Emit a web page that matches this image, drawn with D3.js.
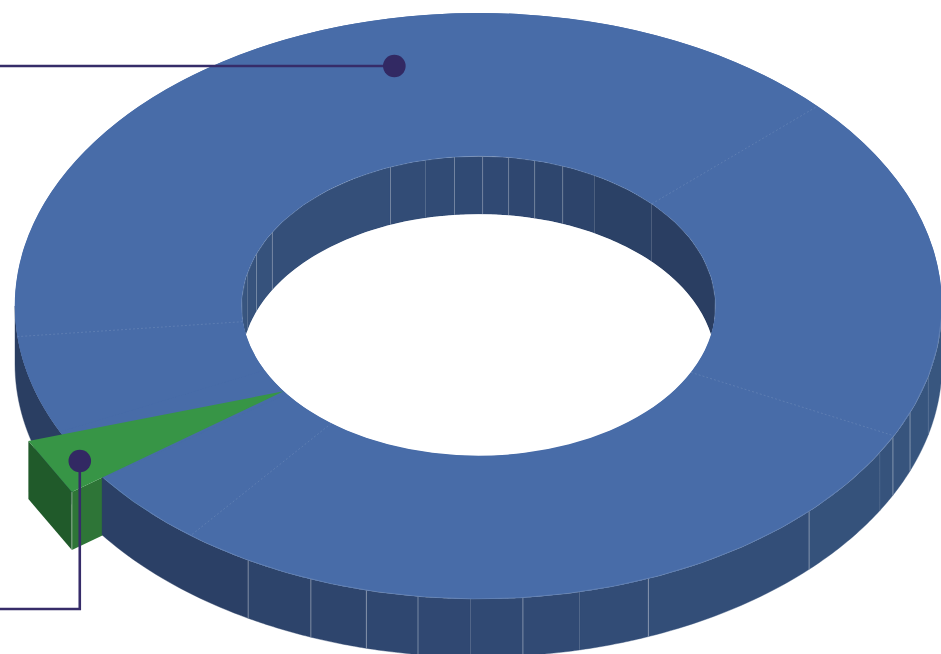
<!DOCTYPE html>
<html>
<head>
<meta charset="utf-8">
<script src="https://cdn.jsdelivr.net/npm/d3@7"></script>
<style>
  html, body { margin: 0; padding: 0; background: #fff; overflow: hidden; }
  svg { display: block; }
</style>
</head>
<body>
<svg id="chart" width="941" height="654"></svg>
<script>
// slice sizes, clockwise from the seam on the left of the ring
const sliceValues = [143, 69.3, 102.1, 15.7, 10.5, 19.4]
const highlightSlice = 4

// angles (degrees clockwise from top) where the side walls are cut into panels
const outerPanels = [90, 104, 111.4, 116.6, 120, 134.5, 158.5, 167.4, 174.5, 181, 187.5, 194, 201.2, 209.8, 234.3]
const outerPanelsLeft = [241, 270]
const outerStrongTicks = [111.4, 116.6, 134.5, 158.5, 174.5, 187.5, 194, 201.2, 209.8]
const outerFaintTicks = [104, 120, 167.4, 181]
const innerPanels = [262, 282.9, 290.5, 299.6, 338.2, 347.1, 354.2, 361, 367.3, 373.7, 380.8, 389.3, 406.9, 458]
const innerStrongTicks = [290.5, 299.6, 338.2, 354.2, 361, 367.3, 373.7, 380.8]
const innerFaintTicks = [282.9, 347.1, 389.3, 406.9]

const innerRatio = 0.5115
const depth = 58
const rad = d => d * Math.PI / 180

const svg = d3.select("#chart")
const sx = d3.scaleLinear().domain([-1, 1]).range([15, 942])
const sy = d3.scaleLinear().domain([-1, 1]).range([13, 599])
const rx = sx(1) - sx(0)
const ry = sy(1) - sy(0)

// angle + radius + drop => screen point
function project(angle, r, z) {
    return [sx(r * Math.sin(rad(angle))), sy(-r * Math.cos(rad(angle))) + (z || 0)]
}

const line = d3.line()

function arcPoints(a0, a1, r, z) {
    return d3.range(0, 25).map(i => project(a0 + (a1 - a0) * i / 24, r, z))
}

// one wall panel between two angles at radius r
function panelPath(a0, a1, r) {
    return line(arcPoints(a0, a1, r, 0).concat(arcPoints(a1, a0, r, depth))) + "Z"
}

const outerColor = d3.scaleLinear().domain([100, 180, 234]).range(["#38567f", "#304973", "#2a3e62"]).clamp(true)
const innerColor = d3.scaleLinear().domain([270, 360, 410]).range(["#38557f", "#304a74", "#2a3e62"]).clamp(true)

function drawPanels(g, edges, r, color) {
    g.selectAll(null)
        .data(d3.pairs(edges))
        .join("path")
        .attr("d", d => panelPath(d[0], d[1], r))
        .attr("fill", d => color((d[0] + d[1]) / 2))
        .attr("stroke", d => color((d[0] + d[1]) / 2))
        .attr("stroke-width", 0.4)
}

function drawTicks(g, angles, r, opacity) {
    g.selectAll(null)
        .data(angles)
        .join("line")
        .attr("x1", d => project(d, r, 0)[0])
        .attr("y1", d => project(d, r, 0)[1])
        .attr("x2", d => project(d, r, depth)[0])
        .attr("y2", d => project(d, r, depth)[1])
        .attr("stroke", "#fff")
        .attr("stroke-width", 0.8)
        .attr("opacity", opacity)
}

const pie = d3.pie().sort(null).value(d => d).startAngle(rad(264)).endAngle(rad(264 + 360))
const slices = pie(sliceValues)
const deg = a => a * 180 / Math.PI
const green = slices[highlightSlice]
const greenStart = deg(green.startAngle)
const greenEnd = deg(green.endAngle)

// the highlighted slice is pulled out and comes to a point at the inner edge
const cornerA = project(greenStart, 1.083, 0)
const cornerB = project(greenEnd, 1.075, 0)
const tipPoint = project(greenStart + 1.2, innerRatio, 0)
const drop = p => [p[0], p[1] + depth]

// outer wall behind the green slice
drawPanels(svg.append("g"), outerPanelsLeft, 1, outerColor)

// green side faces
svg.append("path")
    .attr("d", line([cornerB, cornerA, drop(cornerA), drop(cornerB)]) + "Z")
    .attr("fill", "#205a2a")
svg.append("path")
    .attr("d", line([cornerA, tipPoint, drop(tipPoint), drop(cornerA)]) + "Z")
    .attr("fill", "#2e7537")
svg.append("line")
    .attr("x1", cornerA[0]).attr("y1", cornerA[1])
    .attr("x2", cornerA[0]).attr("y2", cornerA[1] + depth)
    .attr("stroke", "#fff").attr("stroke-width", 0.8).attr("opacity", 0.55)

// outer wall in front
const outerWall = svg.append("g")
drawPanels(outerWall, outerPanels, 1, outerColor)
drawTicks(outerWall, outerStrongTicks, 1, 0.45)
drawTicks(outerWall, outerFaintTicks, 1, 0.1)

// inner wall seen through the hole
svg.append("clipPath").attr("id", "hole")
    .append("ellipse")
    .attr("cx", sx(0)).attr("cy", sy(0))
    .attr("rx", rx * innerRatio).attr("ry", ry * innerRatio)

const innerWall = svg.append("g").attr("clip-path", "url(#hole)")
drawPanels(innerWall, innerPanels, innerRatio, innerColor)
drawTicks(innerWall, innerStrongTicks, innerRatio, 0.32)
drawTicks(innerWall, innerFaintTicks, innerRatio, 0.1)
innerWall.append("ellipse")
    .attr("cx", sx(0)).attr("cy", sy(0) + depth)
    .attr("rx", rx * innerRatio).attr("ry", ry * innerRatio)
    .attr("fill", "#fff")

// top face: a whole ring under the slices so no seam shows through
const arc = d3.arc().innerRadius(innerRatio).outerRadius(1)
const topFace = svg.append("g")
    .attr("transform", "translate(" + sx(0) + "," + sy(0) + ") scale(" + rx + "," + ry + ")")
topFace.append("path")
    .attr("d", arc({ startAngle: 0, endAngle: 2 * Math.PI }))
    .attr("fill", "#486ca8")
topFace.selectAll(null)
    .data(slices)
    .join("path")
    .attr("d", arc)
    .attr("fill", "#486ca8")

// light rim only where the top face meets a wall
svg.append("path")
    .attr("d", line(arcPoints(92, 234, 1, 0)))
    .attr("fill", "none").attr("stroke", "#8ea5cb").attr("stroke-width", 0.6).attr("opacity", 0.55)
svg.append("path")
    .attr("d", line(arcPoints(265, 455, innerRatio, 0)))
    .attr("fill", "none").attr("stroke", "#8ea5cb").attr("stroke-width", 0.6).attr("opacity", 0.55)

// dotted seams between slices
svg.append("g").selectAll("line")
    .data(slices.filter((d, i) => i < highlightSlice))
    .join("line")
    .attr("x1", d => project(deg(d.startAngle), innerRatio, 0)[0])
    .attr("y1", d => project(deg(d.startAngle), innerRatio, 0)[1])
    .attr("x2", d => project(deg(d.startAngle), 1, 0)[0])
    .attr("y2", d => project(deg(d.startAngle), 1, 0)[1])
    .attr("stroke", "#6f8cba")
    .attr("stroke-width", 0.8)
    .attr("stroke-dasharray", "2 2")
    .attr("opacity", 0.7)

// green top
svg.append("path")
    .attr("d", line([tipPoint, cornerB, cornerA]) + "Z")
    .attr("fill", "#379546")

// leader lines
const leaderColor = "#362c69"
const dotTop = project(347.5, 0.839, 0)
const dotGreen = project(238.4, 1.01, 0)

svg.append("path")
    .attr("d", line([[0, dotTop[1]], dotTop]))
    .attr("fill", "none").attr("stroke", leaderColor).attr("stroke-width", 2.6)
svg.append("path")
    .attr("d", line([dotGreen, [dotGreen[0], 609], [0, 609]]))
    .attr("fill", "none").attr("stroke", leaderColor).attr("stroke-width", 2.6)
svg.append("g").selectAll("circle")
    .data([dotTop, dotGreen])
    .join("circle")
    .attr("cx", d => d[0])
    .attr("cy", d => d[1])
    .attr("r", 11.3)
    .attr("fill", "#322963")
</script>
</body>
</html>
